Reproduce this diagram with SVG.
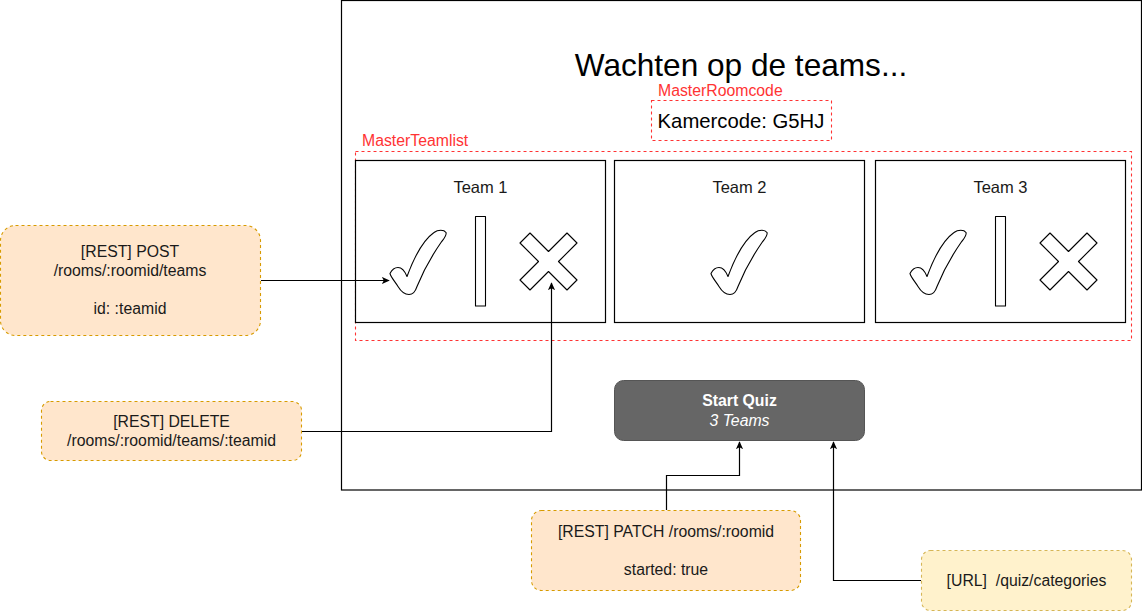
<svg xmlns="http://www.w3.org/2000/svg" width="1142" height="611" viewBox="0 0 1142 611">
<style>
text{font-family:"Liberation Sans",Arial,Helvetica,sans-serif;}
.frame{fill:#ffffff;stroke:#000;stroke-width:1.2;}
.team{fill:#ffffff;stroke:#000;stroke-width:1.2;}
.red{fill:none;stroke:#ff3333;stroke-width:1.1;stroke-dasharray:3 3;}
.redt{fill:#ff3333;font-size:15.8px;}
.icon{fill:#ffffff;stroke:#000;stroke-width:1.1;stroke-linejoin:round;}
.t16{font-size:15.8px;fill:#1a1a1a;text-anchor:middle;}
.tt{font-size:16.5px;fill:#1a1a1a;text-anchor:middle;}
.orange{fill:#ffe6cc;stroke:#d79b00;stroke-width:1.1;stroke-dasharray:3 3;}
.yellow{fill:#fff2cc;stroke:#d6b656;stroke-width:1.1;stroke-dasharray:3 3;}
.conn{fill:none;stroke:#000;stroke-width:1.2;}
</style>
<defs>
<marker id="arr" viewBox="0 0 10 10" refX="9" refY="5" markerWidth="8" markerHeight="8" markerUnits="userSpaceOnUse" orient="auto">
<path d="M0,0.5 L10,5 L0,9.5 L2.5,5 Z" fill="#000"/>
</marker>
<path id="check" d="M0,44 C2,40 5,38 8,38 C12,38 15,42 17,47 C24,28 34,10 44,3 C48,0 54,0 56,3 C57,6 54,9 51,13 C42,26 33,42 27,57 C25,63 23,65 19,65 C14,65 11,62 8,57 C5,52 1,48 0,44 Z"/>
<polygon id="cross" points="-28.5,-18.5 -18.5,-28.5 0,-10 18.5,-28.5 28.5,-18.5 10,0 28.5,18.5 18.5,28.5 0,10 -18.5,28.5 -28.5,18.5 -10,0"/>
</defs>
<g id="screen">
<rect class="frame" x="341.5" y="0.5" width="800" height="489.5"/>
<text x="741" y="76" font-size="31.6" fill="#000" text-anchor="middle">Wachten op de teams...</text>
</g>
<g id="roomcode">
<text class="redt" x="658" y="96">MasterRoomcode</text>
<rect class="red" x="651.5" y="100.5" width="180" height="40"/>
<text x="741" y="128" font-size="20.3" fill="#000" text-anchor="middle">Kamercode: G5HJ</text>
</g>
<g id="teamlist">
<text class="redt" x="362" y="145.5">MasterTeamlist</text>
<rect class="red" x="355.5" y="151.5" width="776" height="189"/>
</g>
<g id="team1">
<rect class="team" x="355.5" y="160.5" width="250" height="162"/>
<text class="tt" x="480.5" y="193">Team 1</text>
<use href="#check" class="icon" x="390" y="229.5"/>
<rect class="icon" x="475.5" y="216.5" width="10" height="89.5"/>
<use href="#cross" class="icon" x="548.5" y="261.5"/>
</g>
<g id="team2">
<rect class="team" x="614.5" y="160.5" width="250" height="162"/>
<text class="tt" x="739.5" y="193">Team 2</text>
<use href="#check" class="icon" x="711" y="229.5"/>
</g>
<g id="team3">
<rect class="team" x="875.5" y="160.5" width="250" height="162"/>
<text class="tt" x="1000.5" y="193">Team 3</text>
<use href="#check" class="icon" x="910" y="229.5"/>
<rect class="icon" x="995.5" y="216.5" width="10" height="89.5"/>
<use href="#cross" class="icon" x="1068.5" y="261.5"/>
</g>
<g id="startquiz">
<rect x="614.5" y="380.5" width="250" height="60" rx="9" fill="#666666" stroke="#555555" stroke-width="1"/>
<text x="739.5" y="406" font-size="15.8" font-weight="bold" fill="#ffffff" text-anchor="middle">Start Quiz</text>
<text x="739.5" y="425.5" font-size="15.8" font-style="italic" fill="#ffffff" text-anchor="middle">3 Teams</text>
</g>
<g id="post">
<rect class="orange" x="0.5" y="225.5" width="260" height="110" rx="15"/>
<text class="t16" x="130" y="257">[REST] POST</text>
<text class="t16" x="130" y="276">/rooms/:roomid/teams</text>
<text class="t16" x="130" y="314">id: :teamid</text>
</g>
<g id="delete">
<rect class="orange" x="41.5" y="401.5" width="260" height="59" rx="9"/>
<text class="t16" x="171.5" y="426.5">[REST] DELETE</text>
<text class="t16" x="171.5" y="445.5">/rooms/:roomid/teams/:teamid</text>
</g>
<g id="patch">
<rect class="orange" x="531.5" y="510.5" width="269" height="80" rx="10"/>
<text class="t16" x="666" y="537">[REST] PATCH /rooms/:roomid</text>
<text class="t16" x="666" y="575">started: true</text>
</g>
<g id="url">
<rect class="yellow" x="921.5" y="550.5" width="210" height="60" rx="9"/>
<text class="t16" x="1026.5" y="585.5" xml:space="preserve">[URL]  /quiz/categories</text>
</g>
<g id="connectors">
<path class="conn" d="M261,280.5 H389" marker-end="url(#arr)"/>
<path class="conn" d="M302,431.5 H551.5 V283" marker-end="url(#arr)"/>
<path class="conn" d="M666.5,510 V475.5 H739.5 V442" marker-end="url(#arr)"/>
<path class="conn" d="M921,580.5 H833.5 V442" marker-end="url(#arr)"/>
</g>
</svg>
